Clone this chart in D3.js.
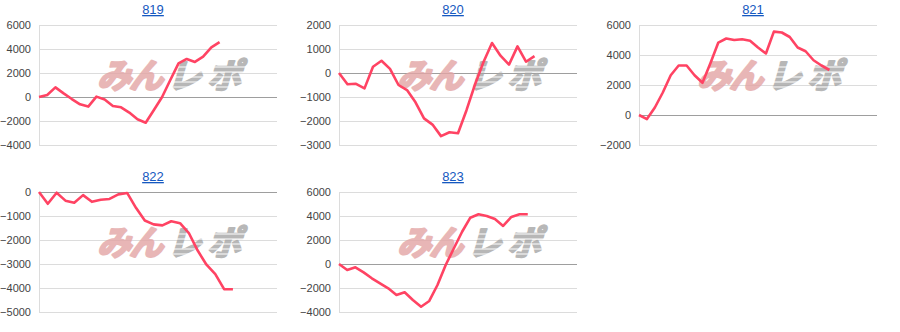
<!DOCTYPE html>
<html lang="ja">
<head>
<meta charset="UTF-8">
<title>差枚グラフ</title>
<script src="https://d3js.org/d3.v7.min.js"></script>
<style>
  body { margin: 0; background: #fff; }
  svg { display: block; }
  .tick text { font-family: Arial, "Liberation Sans", sans-serif; font-size: 11px; fill: #444; }
</style>
</head>
<body>
<svg id="chart" width="900" height="332"></svg>
<script>
// machine numbers (chart titles)
const titles = ["819", "820", "821", "822", "823"];

// 差枚 per sample
const data819 = [0, 170, 800, 300, -170, -610, -800, 30, -200, -750, -860, -1300, -1860, -2140, -1080, 0, 1420, 2800, 3170, 2920, 3360, 4140, 4580];
const data820 = [0, -470, -450, -640, 260, 510, 170, -500, -710, -1220, -1890, -2150, -2630, -2470, -2510, -1550, -480, 460, 1250, 720, 350, 1110, 470, 700];
const data821 = [0, -270, 500, 1500, 2650, 3300, 3300, 2650, 2150, 3450, 4830, 5100, 5000, 5050, 4950, 4500, 4100, 5560, 5500, 5200, 4500, 4250, 3650, 3300, 3000];
const data822 = [0, -490, -30, -360, -450, -130, -410, -320, -290, -100, -40, -660, -1190, -1350, -1390, -1220, -1300, -1710, -2440, -3030, -3420, -4050, -4050];
const data823 = [0, -500, -280, -700, -1190, -1610, -2030, -2580, -2360, -3000, -3560, -3080, -1750, -80, 1310, 2690, 3860, 4140, 4000, 3750, 3170, 3920, 4140, 4140];
const series = [data819, data820, data821, data822, data823];

// axis settings
const yMin = [-4000, -3000, -2000, -5000, -4000];
const yMax = [6000, 2000, 6000, 0, 6000];
const yStep = [2000, 1000, 2000, 1000, 2000];
const xMax = [29, 28, 30, 27, 29];

const svg = d3.select("#chart");
const cellW = 300, cellH = 167;
const plotW = 238, plotH = 120;

series.forEach(function(values, i) {
    const col = i % 3, row = Math.floor(i / 3);
    const g = svg.append("g")
        .attr("transform", "translate(" + (col * cellW) + "," + (row * cellH) + ")");

    const left = 39, top = 25;
    const x = d3.scaleLinear().domain([0, xMax[i]]).range([left, left + plotW]);
    const y = d3.scaleLinear().domain([yMin[i], yMax[i]]).range([top + plotH, top]);
    const ticks = d3.range(yMin[i], yMax[i] + 1, yStep[i]);

    // title link
    g.append("text")
        .attr("x", 153).attr("y", 14)
        .attr("text-anchor", "middle")
        .style("font-family", "Arial, 'Liberation Sans', sans-serif")
        .style("font-size", "13px")
        .style("fill", "#1558c0")
        .style("text-decoration", "underline")
        .text(titles[i]);

    // gridlines
    g.append("g").selectAll("line")
        .data(ticks)
        .enter().append("line")
        .attr("x1", left).attr("x2", left + plotW)
        .attr("y1", function(d) { return y(d); })
        .attr("y2", function(d) { return y(d); })
        .style("stroke", function(d) { return d === 0 ? "#9e9e9e" : "#dcdcdc"; })
        .style("stroke-width", 1)
        .attr("shape-rendering", "crispEdges");

    g.append("line")
        .attr("x1", left).attr("x2", left)
        .attr("y1", top).attr("y2", top + plotH)
        .style("stroke", "#dcdcdc")
        .attr("shape-rendering", "crispEdges");

    // y axis labels
    const axis = g.append("g")
        .attr("transform", "translate(" + (left - 8) + ",0)")
        .call(d3.axisLeft(y).tickValues(ticks).tickSize(0).tickPadding(0).tickFormat(d3.format("d")));
    axis.select(".domain").remove();

    // watermark
    const wm = g.append("g")
        .attr("transform", "translate(97,88) skewX(-16)")
        .style("opacity", 0.8);
    wm.append("text")
        .attr("x", 0).attr("y", 0)
        .attr("textLength", 66)
        .style("font-family", "'Noto Sans CJK JP', sans-serif")
        .style("font-weight", 700)
        .style("font-size", "34px")
        .style("fill", "#e3a5a5")
        .style("stroke", "#e3a5a5")
        .style("stroke-width", 2.4)
        .style("stroke-linejoin", "round")
        .text("みん");
    wm.append("text")
        .attr("x", 70).attr("y", 0)
        .attr("textLength", 74)
        .style("font-family", "'Noto Sans CJK JP', sans-serif")
        .style("font-weight", 700)
        .style("font-size", "34px")
        .style("fill", "#a6a6a6")
        .style("stroke", "#a6a6a6")
        .style("stroke-width", 2.4)
        .style("stroke-linejoin", "round")
        .text("レポ");
    wm.append("g").selectAll("line")
        .data(d3.range(-21, 0, 5))
        .enter().append("line")
        .attr("x1", 70).attr("x2", 148)
        .attr("y1", function(d) { return d; })
        .attr("y2", function(d) { return d; })
        .style("stroke", "#fff")
        .style("stroke-width", 1.2);

    // line
    const line = d3.line()
        .x(function(d, k) { return x(k); })
        .y(function(d) { return y(d); });

    g.append("path")
        .datum(values)
        .attr("d", line)
        .style("fill", "none")
        .style("stroke", "#ff4363")
        .style("stroke-width", 2.6)
        .style("stroke-linejoin", "round");
});
</script>
</body>
</html>
